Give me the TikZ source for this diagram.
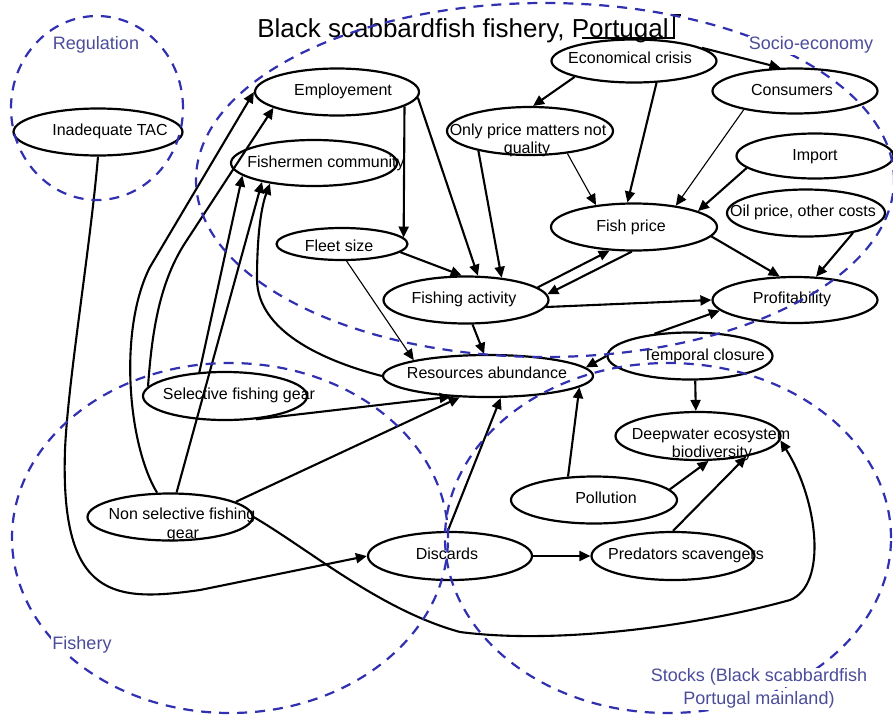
\documentclass[tikz,border=0pt]{standalone}
\usepackage{fontspec}
\setmainfont{Liberation Sans}
\usetikzlibrary{arrows.meta,shapes.geometric}
\definecolor{grpline}{RGB}{48,48,176}
\definecolor{grptext}{RGB}{76,76,155}
\begin{document}
\begin{tikzpicture}[x=1pt,y=-1pt,
  el/.style={draw=black, line width=2.2pt, ellipse, inner sep=0pt},
  txt/.style={font=\fontsize{16}{18}\selectfont, inner sep=0pt, text height=12pt, text depth=2pt},
  conn/.style={line width=2.1pt, -{Triangle[length=11pt,width=10pt]}},
  thinconn/.style={line width=1.1pt, -{Triangle[length=11pt,width=10pt]}},
  grp/.style={draw=grpline, line width=2.2pt, dash pattern=on 10pt off 8pt, ellipse, inner sep=0pt},
  grplab/.style={text=grptext, font=\fontsize{18}{23}\selectfont, inner sep=1pt, fill=white, text height=13pt, text depth=4pt},
]
\fill[white] (0,0) rectangle (893,715);
\useasboundingbox (0,0) rectangle (893,715);

% title
\node[font=\fontsize{26}{30}\selectfont, anchor=base, inner sep=0pt] (title) at (463,37) {Black scabbardfish fishery, Portugal};
\draw[line width=1.2pt] (582,38) -- (674,38) -- (674,15) -- (681,15);

% ellipses
\node[el, minimum width=169pt, minimum height=47pt] (tac) at (98,132) {};
\node[el, minimum width=164pt, minimum height=47pt] (emp) at (337,92) {};
\node[el, minimum width=166pt, minimum height=46pt] (fc) at (314,163) {};
\node[el, minimum width=131pt, minimum height=32pt] (fleet) at (342,244) {};
\node[el, minimum width=165pt, minimum height=47pt] (fa) at (466,300) {};
\node[el, minimum width=210pt, minimum height=42pt] (ra) at (488,376) {};
\node[el, minimum width=164pt, minimum height=48pt] (sfg) at (225,396) {};
\node[el, minimum width=165pt, minimum height=47pt] (nsfg) at (170,517) {};
\node[el, minimum width=164pt, minimum height=48pt] (disc) at (450,556) {};
\node[el, minimum width=163pt, minimum height=48pt] (pred) at (673,556) {};
\node[el, minimum width=166pt, minimum height=47pt] (poll) at (594,500) {};
\node[el, minimum width=165pt, minimum height=48pt] (deep) at (698,436) {};
\node[el, minimum width=165pt, minimum height=47pt] (tc) at (690,356) {};
\node[el, minimum width=165pt, minimum height=46pt] (prof) at (795,300) {};
\node[el, minimum width=166pt, minimum height=47pt] (fp) at (634,227) {};
\node[el, minimum width=158pt, minimum height=47pt] (oil) at (806,213) {};
\node[el, minimum width=157pt, minimum height=45pt] (imp) at (815,156) {};
\node[el, minimum width=165pt, minimum height=45pt] (cons) at (795,91) {};
\node[el, minimum width=166pt, minimum height=48pt] (opm) at (530,131) {};
\node[el, minimum width=165pt, minimum height=43pt] (eco) at (634,61) {};

% texts
\node[txt] (tac-t) at (110,130) {Inadequate TAC};
\node[txt] (emp-t) at (343,90) {Employement};
\node[txt] (fc-t) at (326,162) {Fishermen community};
\node[txt] (fleet-t) at (339,246) {Fleet size};
\node[txt] (fa-t) at (464,298) {Fishing activity};
\node[txt] (ra-t) at (487,373) {Resources abundance};
\node[txt] (sfg-t) at (239,394) {Selective fishing gear};
\node[txt] (nsfg-t1) at (182,514) {Non selective fishing};
\node[txt] (nsfg-t2) at (183,533) {gear};
\node[txt] (disc-t) at (447,554) {Discards};
\node[txt] (pred-t) at (686,554) {Predators scavengers};
\node[txt] (poll-t) at (606,498) {Pollution};
\node[txt] (deep-t1) at (711,434) {Deepwater ecosystem};
\node[txt] (deep-t2) at (712,452) {biodiversity};
\node[txt] (tc-t) at (704,355) {Temporal closure};
\node[txt] (prof-t) at (792,298) {Profitability};
\node[txt] (fp-t) at (631,226) {Fish price};
\node[txt] (oil-t) at (803,211) {Oil price, other costs};
\node[txt] (imp-t) at (815,155) {Import};
\node[txt] (cons-t) at (792,90) {Consumers};
\node[txt] (opm-t1) at (528,130) {Only price matters not};
\node[txt] (opm-t2) at (527,148) {quality};
\node[txt] (eco-t) at (630,58) {Economical crisis};

% connectors
\draw[conn] (tac.south) .. controls (90,250) and (68,380) .. (65,450) .. controls (60,600) and (115,602) .. (200,590) -- (disc.west);
\draw[conn] (nsfg.118) .. controls (128,445) and (118,330) .. (150,267) -- (emp.west);
\draw[conn] (sfg.173) .. controls (152,330) and (160,280) .. (187,240) -- (emp.194);
\draw[conn] (sfg.137) -- (fc.190);
\draw[conn] (nsfg.75) -- (fc.200);
\draw[conn] (ra.west) .. controls (320,360) and (258,330) .. (257,280) .. controls (257,230) and (262,205) .. (fc.205);
\draw[conn] (emp.-12) -- (fleet.6);
\draw[conn] (emp.-4) -- (fa.64);
\draw[conn] (opm.201) -- (fa.32);
\draw[conn] (fleet.-8) -- (fa.100);
\draw[thinconn] (fleet.-75) -- (ra.168);
\draw[conn] (fa.-75) -- (ra.100);
\draw[conn] (fa.10) -- (fp.224);
\draw[conn] (fp.265) -- (fa.4);
\draw[conn] (fa.-5) -- (prof.west);
\draw[conn] (fp.-7) -- (prof.123);
\draw[conn] (oil.-23) -- (prof.48);
\draw[conn] (tc.148) -- (prof.188);
\draw[conn] (tc.west) -- (ra.5);
\draw[conn] (tc.-78) -- (deep.95);
\draw[conn] (poll.138) -- (ra.-7);
\draw[conn] (poll.8) -- (deep.-67);
\draw[conn] (pred.north) -- (deep.-23);
\draw[conn] (disc.east) -- (pred.west);
\draw[conn] (disc.95) -- (ra.-60);
\draw[conn] (nsfg.13) -- (ra.217);
\draw[conn] (sfg.-37) -- (ra.209);
\draw[conn] (nsfg.east) .. controls (310,550) and (380,610) .. (460,632) .. controls (560,645) and (700,625) .. (790,600) .. controls (828,585) and (818,500) .. (deep.-3);
\draw[conn] (eco.11) -- (cons.122);
\draw[conn] (eco.195) -- (opm.83);
\draw[conn] (eco.-44) -- (fp.105);
\draw[thinconn] (opm.-31) -- (fp.150);
\draw[thinconn] (cons.200) -- (fp.27);
\draw[conn] (imp.190) -- (fp.14);

% groups
\node[grp, minimum width=172pt, minimum height=184pt] (reg) at (97,108) {};
\node[grp, minimum width=698pt, minimum height=354pt] (soc) at (545,180) {};
\node[grp, minimum width=436pt, minimum height=350pt] (fish) at (230,538) {};
\node[grp, minimum width=446pt, minimum height=350pt] (stk) at (668,538) {};

\node[grplab, fill=none] (reg-l) at (96,45) {Regulation};
\node[grplab] (soc-l) at (811,45) {Socio-economy};
\node[grplab] (fish-l) at (82,645) {Fishery};
\node[grplab] (stk-l1) at (759,677) {Stocks (Black scabbardfish};
\node[grplab] (stk-l2) at (759,700) {Portugal mainland)};
\end{tikzpicture}
\end{document}
